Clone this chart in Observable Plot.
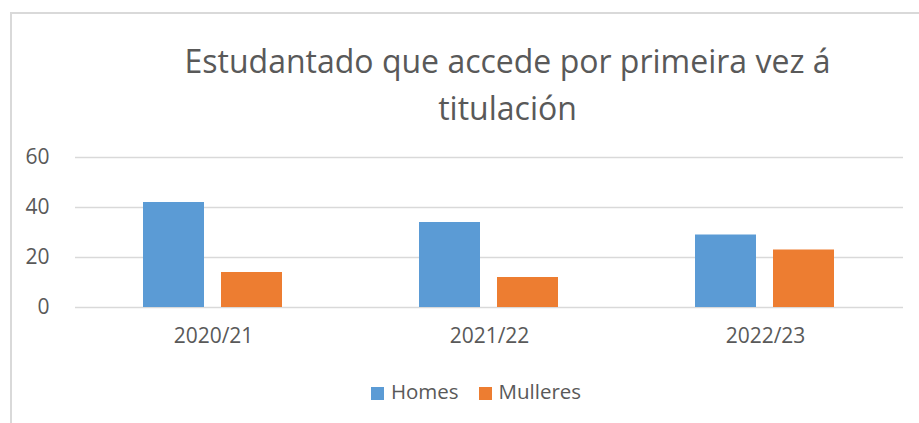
<!DOCTYPE html>
<html><head><meta charset="utf-8">
<script src="https://cdn.jsdelivr.net/npm/d3@7"></script>
<script src="https://cdn.jsdelivr.net/npm/@observablehq/plot@0.6"></script>
<style>
body{margin:0;background:#fff;font-family:"Open Sans",sans-serif;width:919px;height:423px;overflow:hidden;position:relative;color:#595959}
#frame{position:absolute;left:10px;top:12px;width:1000px;height:500px;border:2px solid #d9d9d9;box-sizing:border-box}
#title{position:absolute;left:0;width:1015px;top:37px;text-align:center;font-size:32px;line-height:47px;color:#595959}
#chart{position:absolute;left:0;top:140px}
#legend{position:absolute;left:0;width:952px;top:376px;text-align:center;font-size:20.5px;line-height:30px;color:#595959;white-space:nowrap}
#legend span.item{display:inline-block;margin:0 10px}
#legend span.sw{display:inline-block;width:13px;height:13px;margin-right:7px;vertical-align:-1px}
</style>
</head><body>
<div id="frame"></div>
<div id="title">Estudantado que accede por primeira vez á<br>titulación</div>
<div id="chart"></div>
<div id="legend"></div>
<script>
const years = ["2020/21", "2021/22", "2022/23"];
const series = ["Homes", "Mulleres"];
const homes = [42, 34, 29];
const mulleres = [14, 12, 23];
const colors = ["#5B9BD5", "#ED7D31"];
const yTicks = [0, 20, 40, 60];

const data = [];
years.forEach((y, i) => {
  data.push({year: y, series: "Homes", value: homes[i]});
  data.push({year: y, series: "Mulleres", value: mulleres[i]});
});

const chart = Plot.plot({
  width: 919,
  height: 210,
  marginTop: 17,
  marginBottom: 43,
  marginLeft: 75,
  marginRight: 16,
  style: {fontFamily: "Open Sans, sans-serif", fontSize: "21px", color: "#595959", background: "transparent"},
  fx: {domain: years, padding: 0, axis: "bottom", label: null, tickSize: 0, tickPadding: 21},
  x: {domain: series, axis: null, paddingInner: 0.212, paddingOuter: 0.86},
  y: {domain: [0, 60], ticks: yTicks, label: null, tickSize: 0, tickPadding: 26},
  color: {domain: series, range: colors},
  marks: [
    Plot.ruleY(yTicks, {stroke: "#d9d9d9", strokeWidth: 1.6, strokeOpacity: 1}),
    Plot.barY(data, {fx: "year", x: "series", y: "value", fill: "series"})
  ]
});
document.getElementById("chart").appendChild(chart);

const leg = document.getElementById("legend");
series.forEach((s, i) => {
  const item = document.createElement("span");
  item.className = "item";
  const sw = document.createElement("span");
  sw.className = "sw";
  sw.style.background = chart.scale("color").apply(s);
  item.appendChild(sw);
  item.appendChild(document.createTextNode(s));
  leg.appendChild(item);
});
</script>
</body></html>
